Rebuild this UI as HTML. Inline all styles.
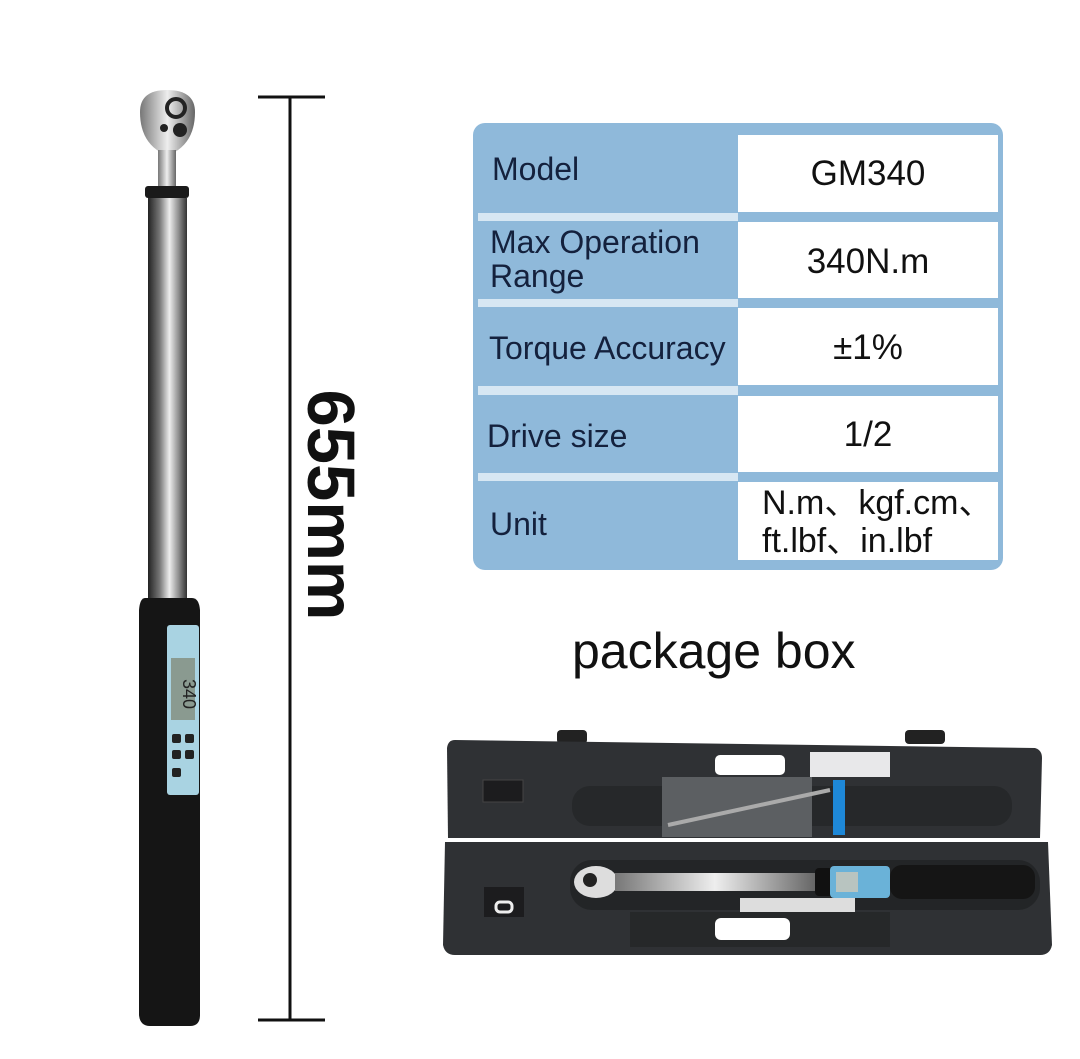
<!DOCTYPE html>
<html><head><meta charset="utf-8"><style>
body{margin:0;width:1080px;height:1059px;background:#fff;overflow:hidden;position:relative;font-family:"Liberation Sans","DejaVu Sans","Noto Sans CJK SC",sans-serif}
.t{position:absolute;color:#14213d;font-size:32px;line-height:34px}
.v{position:absolute;color:#111;font-size:35px;text-align:center;line-height:36px}
</style></head><body>
<svg width="1080" height="1059" style="position:absolute;left:0;top:0">
<defs>
<linearGradient id="sh" x1="0" x2="1"><stop offset="0" stop-color="#222"/><stop offset=".3" stop-color="#777"/><stop offset=".55" stop-color="#eee"/><stop offset=".8" stop-color="#888"/><stop offset="1" stop-color="#333"/></linearGradient>
<linearGradient id="hd" x1="0" x2="1"><stop offset="0" stop-color="#777"/><stop offset=".5" stop-color="#eee"/><stop offset="1" stop-color="#666"/></linearGradient>
</defs>
<line x1="290" y1="97" x2="290" y2="1020" stroke="#111" stroke-width="3"/>
<line x1="258" y1="97" x2="325" y2="97" stroke="#111" stroke-width="3"/>
<line x1="258" y1="1020" x2="325" y2="1020" stroke="#111" stroke-width="3"/>
<path d="M140 112 Q140 90 167 90 Q195 90 195 112 Q195 140 175 152 L160 152 Q140 140 140 112Z" fill="url(#hd)"/>
<circle cx="176" cy="108" r="9" fill="none" stroke="#222" stroke-width="4"/>
<circle cx="180" cy="130" r="7" fill="#222"/><circle cx="164" cy="128" r="4" fill="#222"/>
<rect x="158" y="150" width="18" height="36" fill="url(#hd)"/>
<rect x="145" y="186" width="44" height="12" rx="3" fill="#1a1a1a"/>
<rect x="148" y="198" width="39" height="400" fill="url(#sh)"/>
<path d="M145 598 Q140 598 139 610 L139 1015 Q140 1026 150 1026 L190 1026 Q200 1026 200 1015 L200 610 Q199 598 192 598Z" fill="#151515"/>
<rect x="167" y="625" width="32" height="170" rx="3" fill="#a9d3e2"/>
<rect x="171" y="658" width="24" height="62" fill="#8a9a90"/>
<text x="172" y="690" font-size="18" transform="rotate(90 183 690)" fill="#222">340</text>
<rect x="172" y="734" width="9" height="9" rx="2" fill="#222"/><rect x="185" y="734" width="9" height="9" rx="2" fill="#222"/>
<rect x="172" y="750" width="9" height="9" rx="2" fill="#222"/><rect x="185" y="750" width="9" height="9" rx="2" fill="#222"/>
<rect x="172" y="768" width="9" height="9" rx="2" fill="#222"/>
<rect x="473" y="123" width="530" height="447" rx="12" fill="#8fb9da"/>
<g fill="#d7e7f3"><rect x="478" y="213" width="260" height="8"/><rect x="478" y="299" width="260" height="8"/><rect x="478" y="386" width="260" height="9"/><rect x="478" y="473" width="260" height="8"/></g>
<g fill="#fff"><rect x="738" y="135" width="260" height="77"/><rect x="738" y="222" width="260" height="76"/><rect x="738" y="308" width="260" height="77"/><rect x="738" y="396" width="260" height="76"/><rect x="738" y="482" width="260" height="78"/></g>
<rect x="557" y="730" width="30" height="14" rx="4" fill="#222"/><rect x="905" y="730" width="40" height="14" rx="4" fill="#222"/>
<path d="M455 740 L1035 748 Q1042 750 1042 758 L1040 838 L448 838 L447 748 Q448 740 455 740Z" fill="#2f3134"/>
<rect x="715" y="755" width="70" height="20" rx="5" fill="#fff"/>
<rect x="810" y="752" width="80" height="25" fill="#e8e8ea"/>
<rect x="572" y="786" width="440" height="40" rx="18" fill="#26282a"/>
<rect x="483" y="780" width="40" height="22" fill="#1c1c1e" stroke="#444"/>
<rect x="662" y="777" width="150" height="60" fill="#5c5f62"/>
<rect x="833" y="780" width="12" height="55" fill="#1e88d8"/>
<line x1="668" y1="825" x2="830" y2="790" stroke="#aaa" stroke-width="4"/>
<path d="M445 842 L1048 842 L1052 945 Q1050 955 1040 955 L455 955 Q445 955 443 945Z" fill="#2f3134"/>
<rect x="570" y="860" width="470" height="50" rx="22" fill="#232527"/>
<rect x="630" y="912" width="260" height="35" fill="#262829"/>
<rect x="715" y="918" width="75" height="22" rx="6" fill="#fff"/>
<rect x="740" y="898" width="115" height="14" fill="#ddd"/>
<ellipse cx="596" cy="882" rx="22" ry="16" fill="#ddd"/>
<circle cx="590" cy="880" r="7" fill="#222"/>
<rect x="615" y="873" width="200" height="18" fill="url(#hd)"/>
<rect x="815" y="868" width="40" height="28" rx="4" fill="#111"/>
<rect x="830" y="866" width="60" height="32" rx="4" fill="#6ab2d8"/>
<rect x="836" y="872" width="22" height="20" fill="#b8c4c0"/>
<rect x="890" y="865" width="145" height="34" rx="12" fill="#151515"/>
<rect x="484" y="887" width="40" height="30" fill="#1c1c1e"/>
<rect x="496" y="902" width="16" height="10" rx="4" fill="none" stroke="#eee" stroke-width="3"/>
</svg>
<div style="position:absolute;left:210px;top:475px;width:240px;height:60px;transform:rotate(90deg);transform-origin:center;font-size:67px;font-weight:bold;color:#111;line-height:60px;text-align:center">655mm</div>
<div class="t" style="left:492px;top:152px">Model</div>
<div class="t" style="left:490px;top:225px">Max Operation<br>Range</div>
<div class="t" style="left:489px;top:331px">Torque Accuracy</div>
<div class="t" style="left:487px;top:419px">Drive size</div>
<div class="t" style="left:490px;top:507px">Unit</div>
<div class="v" style="left:738px;width:260px;top:156px">GM340</div>
<div class="v" style="left:738px;width:260px;top:244px">340N.m</div>
<div class="v" style="left:738px;width:260px;top:330px">±1%</div>
<div class="v" style="left:738px;width:260px;top:417px">1/2</div>
<div class="v" style="left:762px;top:484px;text-align:left;line-height:38px;font-size:34px;white-space:nowrap">N.m、kgf.cm、<br>ft.lbf、in.lbf</div>
<div style="position:absolute;left:572px;top:622px;font-size:50px;color:#111">package box</div>
</body></html>
